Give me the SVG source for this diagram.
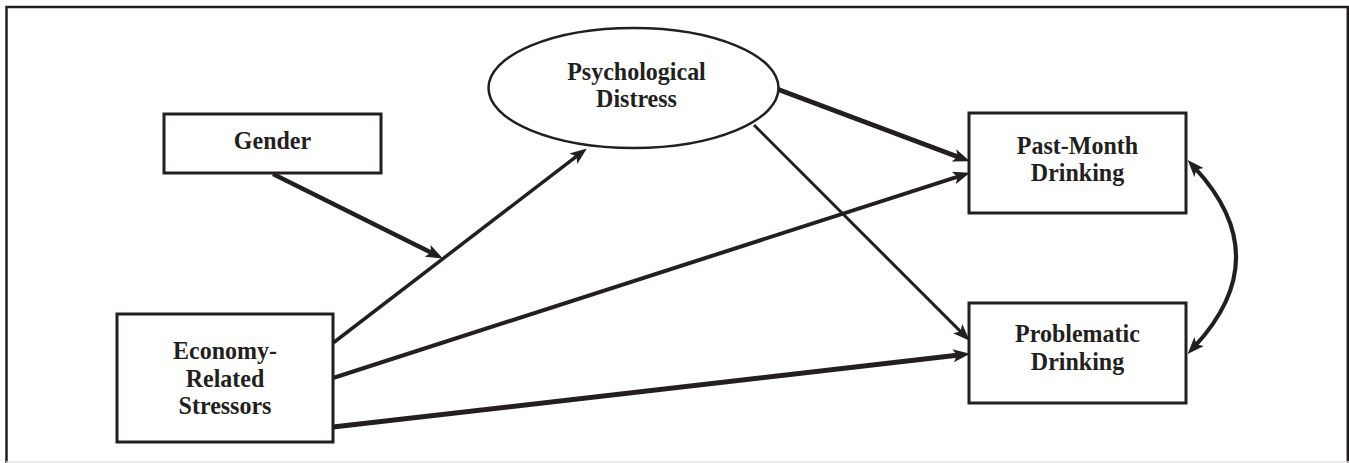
<svg xmlns="http://www.w3.org/2000/svg" width="1349" height="463" viewBox="0 0 1349 463">
<style>
.box{fill:#fff;stroke:#231f20;stroke-width:3}
.lbl{font-family:"Liberation Serif","Times New Roman",serif;font-weight:bold;font-size:24px;fill:#231f20;text-anchor:middle}
.edge{fill:none;stroke:#231f20;stroke-linecap:butt}
</style>
<defs>
<marker id="ah" markerUnits="userSpaceOnUse" markerWidth="17" markerHeight="13" refX="6" refY="6.5" orient="auto-start-reverse" viewBox="0 0 17 13">
<path d="M0,0 L17,6.5 L0,13 L4,6.5 z" fill="#231f20"/>
</marker>
</defs>
<rect x="0" y="0" width="1349" height="463" fill="#fff"/>
<g id="frame">
<path d="M6.5,463 V7 H1347.8 V463" fill="none" stroke="#231f20" stroke-width="2.5"/>
<line x1="6" y1="462" x2="1349" y2="462" stroke="#e4e4e4" stroke-width="1.5"/>
</g>
<g id="connectors">
<line class="edge" x1="273" y1="174" x2="433" y2="253.5" stroke-width="4.5" marker-end="url(#ah)"/>
<line class="edge" x1="333" y1="343" x2="578.1" y2="155.1" stroke-width="3.5" marker-end="url(#ah)"/>
<line class="edge" x1="777" y1="89" x2="959.6" y2="157.5" stroke-width="5" marker-end="url(#ah)"/>
<line class="edge" x1="333" y1="378" x2="959.5" y2="176.1" stroke-width="4" marker-end="url(#ah)"/>
<line class="edge" x1="754" y1="125" x2="961.9" y2="332.9" stroke-width="3" marker-end="url(#ah)"/>
<line class="edge" x1="333" y1="427" x2="959.1" y2="355.1" stroke-width="5" marker-end="url(#ah)"/>
<path class="edge" d="M1195.1,168.1 Q1277,257 1195.1,345.9" stroke-width="4" marker-start="url(#ah)" marker-end="url(#ah)"/>
</g>
<g id="gender">
<rect class="box" x="164" y="114" width="217" height="59"/>
<text class="lbl" transform="translate(272.5,148.5) scale(1,1.08)">Gender</text>
</g>
<g id="psych">
<ellipse cx="633.5" cy="88" rx="145" ry="60" fill="#fff" stroke="#231f20" stroke-width="2.5"/>
<text class="lbl" transform="translate(636.5,80) scale(1,1.05)">Psychological</text>
<text class="lbl" transform="translate(636.5,106.5) scale(1,1.05)">Distress</text>
</g>
<g id="economy">
<rect class="box" x="117" y="314" width="216" height="128"/>
<text class="lbl" transform="translate(225,359) scale(1,1.08)">Economy-</text>
<text class="lbl" transform="translate(225,387) scale(1,1.08)">Related</text>
<text class="lbl" transform="translate(225,414) scale(1,1.08)">Stressors</text>
</g>
<g id="pastmonth">
<rect class="box" x="969" y="113" width="217" height="100"/>
<text class="lbl" transform="translate(1077.5,154) scale(1,1.08)">Past-Month</text>
<text class="lbl" transform="translate(1077.5,181) scale(1,1.08)">Drinking</text>
</g>
<g id="problematic">
<rect class="box" x="969" y="303" width="217" height="100"/>
<text class="lbl" transform="translate(1077.5,341.5) scale(1,1.08)">Problematic</text>
<text class="lbl" transform="translate(1077.5,370) scale(1,1.08)">Drinking</text>
</g>
</svg>
